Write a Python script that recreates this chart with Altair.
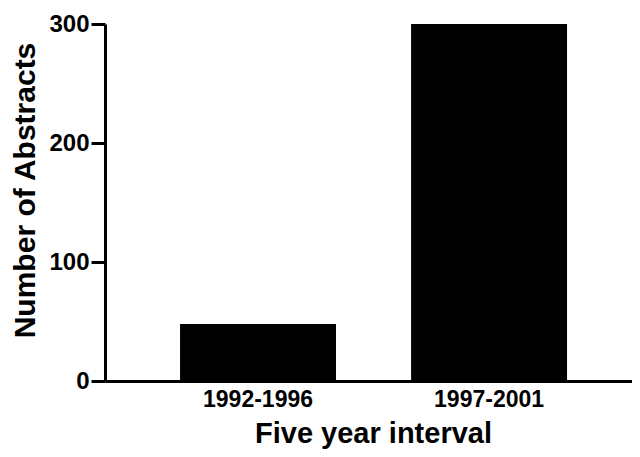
import altair as alt
import pandas as pd

intervals = ["1992-1996", "1997-2001"]
abstracts = [48, 300]
y_ticks = [0, 100, 200, 300]

df = pd.DataFrame({"interval": intervals, "abstracts": abstracts})

FONT = "Liberation Sans"

chart = alt.Chart(df).mark_bar(color="black").encode(
    x=alt.X(
        "interval:N",
        sort=intervals,
        title="Five year interval",
        scale=alt.Scale(paddingInner=0.325, paddingOuter=0.303, align=0.536),
        axis=alt.Axis(
            labelAngle=0,
            labelFont=FONT, labelFontSize=23, labelFontWeight="bold", labelColor="black",
            labelPadding=7,
            ticks=False,
            domainColor="black", domainWidth=3,
            titleFont=FONT, titleFontSize=29, titleFontWeight="bold", titleColor="black",
            titleX=268,
            titleY=38,
            titleBaseline="top",
            grid=False,
        ),
    ),
    y=alt.Y(
        "abstracts:Q",
        title="Number of Abstracts",
        scale=alt.Scale(domain=[0, 300], nice=False),
        axis=alt.Axis(
            values=y_ticks,
            labelFont=FONT, labelFontSize=24, labelFontWeight="bold", labelColor="black",
            labelPadding=2,
            tickColor="black", tickWidth=3, tickSize=14,
            domainColor="black", domainWidth=3,
            titleFont=FONT, titleFontSize=30, titleFontWeight="bold", titleColor="black",
            titleX=-65,
            titleY=166,
            grid=False,
        ),
    ),
).properties(
    width=527,
    height=357,
    autosize=alt.AutoSizeParams(type="none"),
    padding={"left": 97, "top": 16, "right": 0, "bottom": 68},
).configure_view(stroke=None)

chart.save("out.html", embed_options={"renderer": "svg", "actions": False})
